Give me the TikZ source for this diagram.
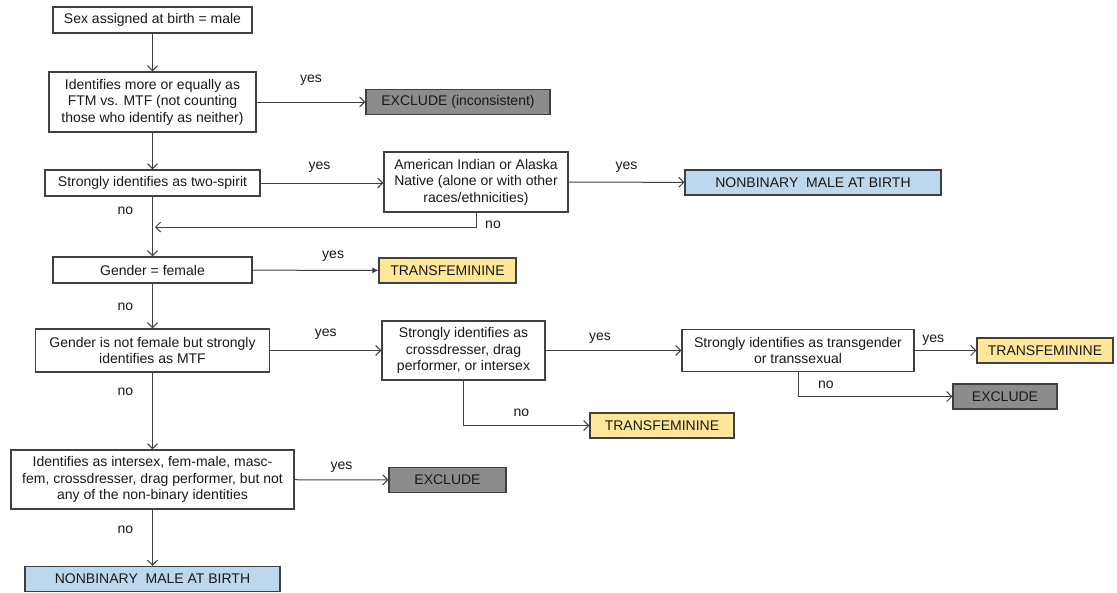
\documentclass[tikz,border=0pt]{standalone}
\usepackage{fontspec}
\setmainfont{Liberation Sans}
\usetikzlibrary{arrows.meta}
\definecolor{exclgray}{HTML}{8C8C8C}
\definecolor{nbblue}{HTML}{BDD7EE}
\definecolor{tfyellow}{HTML}{FFE699}
\definecolor{linegray}{HTML}{404040}

\begin{document}
\begin{tikzpicture}[
  x=1pt, y=-1pt,
  >={Straight Barb[length=5pt,width=10pt]},
  every node/.style={font=\fontsize{14}{16.5}\selectfont, text=black!90},
  ask/.style={draw=linegray, line width=1.2pt, fill=white,
    align=center, inner sep=0pt},
  term/.style={ask, minimum height=25pt},
  excl/.style={term, fill=exclgray},
  nonbin/.style={term, fill=nbblue},
  tfem/.style={term, fill=tfyellow},
  lab/.style={inner sep=0pt},
  flow/.style={->, draw=linegray, line width=1pt}]

  \useasboundingbox (0,0) rectangle (1117,592);

  % main column
  \node[ask, minimum width=199pt, minimum height=26pt] (sex) at (152.5,20) {Sex assigned at birth = male};
  \node[ask, minimum width=207pt, minimum height=60pt] (ftm) at (152.5,102) {Identifies more or equally as\\FTM vs. MTF (not counting\\those who identify as neither)};
  \node[ask, minimum width=215pt, minimum height=26pt] (spirit) at (152.5,183) {Strongly identifies as two-spirit};
  \node[ask, minimum width=199pt, minimum height=26pt] (fem) at (152.5,270) {Gender = female};
  \node[ask, minimum width=234pt, minimum height=43pt] (mtf) at (152.5,350.5) {Gender is not female but strongly\\identifies as MTF};
  \node[ask, minimum width=283pt, minimum height=59pt] (inter) at (152.5,479.5) {Identifies as intersex, fem-male, masc-\\fem, crossdresser, drag performer, but not\\any of the non-binary identities};
  \node[nonbin, minimum width=255pt] (nb2) at (152.5,579) {NONBINARY~ MALE AT BIRTH};

  % side questions
  \node[ask, minimum width=184pt, minimum height=60pt] (aian) at (476,182) {American Indian or Alaska\\Native (alone or with other\\races/ethnicities)};
  \node[ask, minimum width=163pt, minimum height=59pt] (cross) at (463.5,350.5) {Strongly identifies as\\crossdresser, drag\\performer, or intersex};
  \node[ask, minimum width=232pt, minimum height=42pt] (trans) at (798,350.5) {Strongly identifies as transgender\\or transsexual};

  % outcomes
  \node[excl, minimum width=184pt] (excl1) at (458,102) {EXCLUDE (inconsistent)};
  \node[nonbin, minimum width=256pt] (nb1) at (813,182.5) {NONBINARY~ MALE AT BIRTH};
  \node[tfem, minimum width=137pt] (tf1) at (447.5,270.5) {TRANSFEMININE};
  \node[tfem, minimum width=136pt] (tf3) at (1045,350.5) {TRANSFEMININE};
  \node[excl, minimum width=104pt] (excl2) at (1005,396.5) {EXCLUDE};
  \node[tfem, minimum width=144pt] (tf2) at (662,425.5) {TRANSFEMININE};
  \node[excl, minimum width=117pt] (excl3) at (447.5,480) {EXCLUDE};

  \coordinate (merge) at (155,227);

  \draw[flow] (sex) -- (ftm);
  \draw[flow] (ftm) -- node[lab, yshift=22] {yes} (excl1);
  \draw[flow] (ftm) -- (spirit);
  \draw[flow] (spirit) -- node[lab, pos=.48, yshift=16] {yes} (aian.west |- spirit);
  \draw[flow] (aian) -- node[lab, yshift=15] {yes} (nb1);
  \draw[flow] (aian.south) |- node[lab, pos=.5, xshift=17, yshift=2] {no} (merge);
  \draw[flow] (spirit) -- node[lab, pos=.23, xshift=-27] {no} (fem);
  \draw[flow, -{Latex[length=6pt,width=6pt]}] (fem) -- node[lab, pos=.64, yshift=14] {yes} (tf1);
  \draw[flow] (fem) -- node[lab, pos=.51, xshift=-27] {no} (mtf);
  \draw[flow] (mtf) -- node[lab, yshift=16] {yes} (cross);
  \draw[flow] (cross) -- node[lab, pos=.4, yshift=12] {yes} (trans);
  \draw[flow] (trans) -- node[lab, pos=.3, yshift=10] {yes} (tf3);
  \draw[flow] (trans.south) |- node[lab, pos=.59, yshift=12] {no} (excl2);
  \draw[flow] (cross.south) |- node[lab, pos=.73, yshift=13] {no} (tf2);
  \draw[flow] (mtf) -- node[lab, pos=.25, xshift=-27] {no} (inter);
  \draw[flow] (inter) -- node[lab, yshift=13] {yes} (excl3);
  \draw[flow] (inter) -- node[lab, pos=.36, xshift=-27] {no} (nb2);
\end{tikzpicture}
\end{document}
